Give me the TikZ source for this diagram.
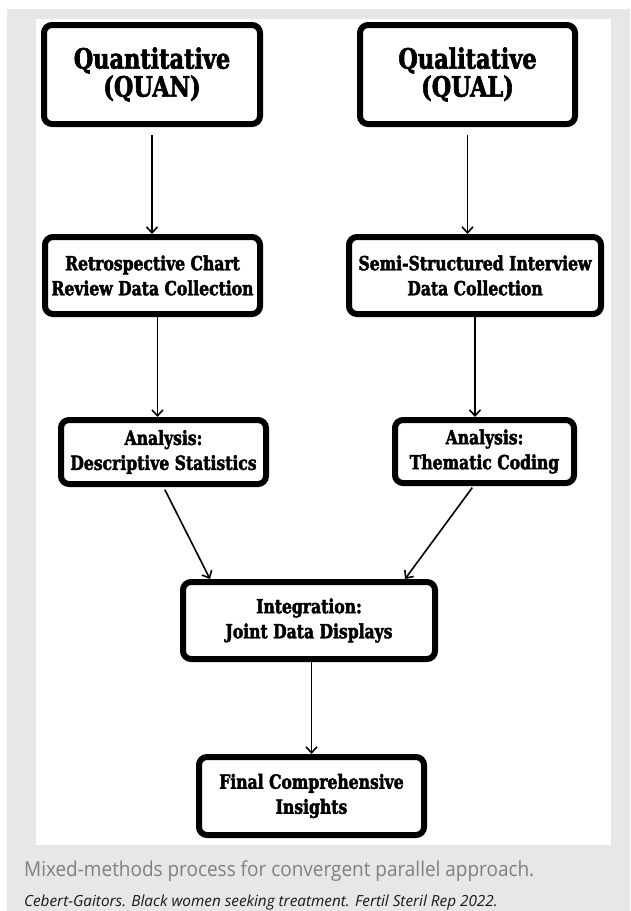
\documentclass[tikz,border=0pt]{standalone}
\usepackage{fontspec}
\usepackage{tikz}
\usetikzlibrary{arrows.meta,positioning}

\newfontfamily\boxfont[FakeStretch=0.8, BoldFeatures={FakeBold=2.2}]{DejaVu Serif}
\newfontfamily\capfont{Open Sans}

\definecolor{panelgray}{RGB}{230,231,232}
\definecolor{capgray}{RGB}{128,128,128}

\begin{document}
\begin{tikzpicture}[->, >={Straight Barb[length=6pt,width=11pt]}, x=1pt, y=-1pt, line width=1.6pt]
\tikzstyle{box}=[rectangle, draw=black, line width=6pt, rounded corners=8pt, fill=white, align=center, inner sep=0pt, font=\boxfont\bfseries\fontsize{19.5}{25}\selectfont]
\tikzstyle{bigbox}=[box, font=\boxfont\bfseries\fontsize{28}{28}\selectfont]

\useasboundingbox (0,0) rectangle (630,911);
\fill[panelgray] (7,9) rectangle (630,911);
\fill[white] (36,19) rectangle (611,845);

\node[bigbox, minimum width=216pt, minimum height=99pt]	(quan)	at (152,74.5)	{Quantitative\\(QUAN)};
\node[bigbox, minimum width=215pt, minimum height=99pt]	(qual)	at (467.5,74.5)	{Qualitative\\(QUAL)};
\node[box, minimum width=215pt, minimum height=77pt]	(retro)	at (152.5,275.5)	{Retrospective Chart\\Review Data Collection};
\node[box, minimum width=252pt, minimum height=77pt]	(semi)	at (475,275.5)	{Semi-Structured Interview\\Data Collection};
\node[box, minimum width=205pt, minimum height=64pt]	(desc)	at (163.5,452)	{Analysis:\\Descriptive Statistics};
\node[box, minimum width=179pt, minimum height=63pt]	(them)	at (484.5,451.5)	{Analysis:\\Thematic Coding};
\node[box, minimum width=252pt, minimum height=77pt]	(integ)	at (309,620.5)	{Integration:\\Joint Data Displays};
\node[box, minimum width=225pt, minimum height=78pt]	(final)	at (311.5,796)	{Final Comprehensive\\Insights};

\node[anchor=base west, text=capgray, font=\capfont\fontsize{20.5}{24}\selectfont]	(cap)	at (20,876)	{\addfontfeatures{FakeStretch=0.925}Mixed-methods process for convergent parallel approach.};
\node[anchor=base west, text=black!90, font=\capfont\itshape\fontsize{15.3}{18}\selectfont]	(cite)	at (20,906)	{Cebert-Gaitors. Black women seeking treatment. Fertil Steril Rep 2022.};

\path
	(quan.south)			edge [shorten <=8pt]	(quan.south |- retro.north)
	(qual.south)			edge [shorten <=8pt]	(qual.south |- semi.north)
	([xshift=5pt]retro.south)	edge			([xshift=5pt]retro.south |- desc.north)
	(semi.south)			edge			(semi.south |- them.north)
	(desc.south)			edge [shorten <=3pt]	([xshift=30pt]integ.north west)
	([xshift=-11pt]them.south)	edge [shorten <=2pt]	([xshift=-33pt]integ.north east)
	(integ.south -| final.north)	edge			(final.north)
;

\end{tikzpicture}
\end{document}
